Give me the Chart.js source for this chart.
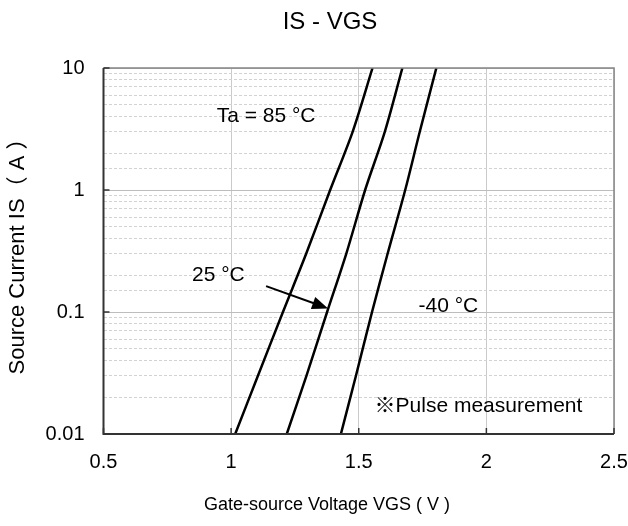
<!DOCTYPE html>
<html>
<head>
<meta charset="utf-8">
<script src="https://cdn.jsdelivr.net/npm/chart.js@4"></script>
<style>
  html, body { margin: 0; padding: 0; background: #fff; }
  #wrap { width: 628px; height: 526px; }
</style>
</head>
<body>
<div id="wrap"><canvas id="isChart"></canvas></div>
<script>
// Source current values (A) shared by all curves
const currents = [0.01, 0.03, 0.1, 0.3, 1, 3, 10];
// Gate-source voltage (V) at each current, per ambient temperature
const vgs85 = [1.016, 1.105, 1.203, 1.294, 1.388, 1.476, 1.554];
const vgs25 = [1.218, 1.295, 1.376, 1.451, 1.525, 1.602, 1.671];
const vgsM40 = [1.430, 1.489, 1.552, 1.613, 1.682, 1.739, 1.804];
const xTicks = [0.5, 1, 1.5, 2, 2.5];
const yTicks = [0.01, 0.1, 1, 10];

const FONT = "'Liberation Sans', Arial, 'Noto Sans CJK JP', sans-serif";

function toPoints(vs) {
    return vs.map((v, i) => ({ x: v, y: currents[i] }));
}

function isDecade(v) {
    const l = Math.log10(v);
    return Math.abs(l - Math.round(l)) < 1e-6;
}

// free text placed in data coordinates
const notes = [
    { text: 'Ta = 85 °C', x: 1.137, y: 3.99 },
    { text: '25 °C', x: 0.950, y: 0.201 },
    { text: '-40 °C', x: 1.851, y: 0.112 },
    { text: '※Pulse measurement', x: 1.969, y: 0.017 }
];
const arrow = { from: { x: 1.137, y: 0.163 }, to: { x: 1.380, y: 0.107 } };

const extras = {
    id: 'extras',
    afterDraw(chart) {
        const { ctx, chartArea: a, scales: { x, y } } = chart;
        ctx.save();

        // plot frame: grey top/right, dark left/bottom
        ctx.lineWidth = 1.5;
        ctx.strokeStyle = '#858585';
        ctx.beginPath();
        ctx.moveTo(a.left, a.top);
        ctx.lineTo(a.right, a.top);
        ctx.lineTo(a.right, a.bottom);
        ctx.stroke();
        ctx.lineWidth = 2;
        ctx.strokeStyle = '#333';
        ctx.beginPath();
        ctx.moveTo(a.left, a.top);
        ctx.lineTo(a.left, a.bottom);
        ctx.lineTo(a.right, a.bottom);
        ctx.stroke();

        // inward tick marks
        ctx.lineWidth = 1.5;
        yTicks.forEach(v => {
            const py = y.getPixelForValue(v);
            ctx.beginPath();
            ctx.moveTo(a.left, py);
            ctx.lineTo(a.left + 6, py);
            ctx.stroke();
        });
        xTicks.forEach(v => {
            const px = x.getPixelForValue(v);
            ctx.beginPath();
            ctx.moveTo(px, a.bottom);
            ctx.lineTo(px, a.bottom - 6);
            ctx.stroke();
        });

        // notes
        ctx.fillStyle = '#000';
        ctx.font = '21px ' + FONT;
        ctx.textAlign = 'center';
        ctx.textBaseline = 'middle';
        notes.forEach(n => {
            ctx.fillText(n.text, x.getPixelForValue(n.x), y.getPixelForValue(n.y));
        });

        // arrow to the 25 °C curve
        const x1 = x.getPixelForValue(arrow.from.x), y1 = y.getPixelForValue(arrow.from.y);
        const x2 = x.getPixelForValue(arrow.to.x), y2 = y.getPixelForValue(arrow.to.y);
        const ang = Math.atan2(y2 - y1, x2 - x1);
        ctx.strokeStyle = '#000';
        ctx.lineWidth = 2;
        ctx.beginPath();
        ctx.moveTo(x1, y1);
        ctx.lineTo(x2 - 10 * Math.cos(ang), y2 - 10 * Math.sin(ang));
        ctx.stroke();
        ctx.beginPath();
        ctx.moveTo(x2, y2);
        ctx.lineTo(x2 - 16 * Math.cos(ang) + 6.5 * Math.sin(ang), y2 - 16 * Math.sin(ang) - 6.5 * Math.cos(ang));
        ctx.lineTo(x2 - 16 * Math.cos(ang) - 6.5 * Math.sin(ang), y2 - 16 * Math.sin(ang) + 6.5 * Math.cos(ang));
        ctx.closePath();
        ctx.fill();

        // titles
        ctx.font = '24px ' + FONT;
        ctx.fillText('IS - VGS', 330, 22);
        ctx.font = '18px ' + FONT;
        ctx.fillText('Gate-source Voltage VGS ( V )', 327, 505);
        ctx.restore();
    }
};

const lineStyle = {
    borderColor: '#000',
    borderWidth: 2.5,
    pointRadius: 0,
    fill: false,
    tension: 0.3
};

const ctx = document.getElementById('isChart').getContext('2d');
new Chart(ctx, {
    type: 'line',
    data: {
        datasets: [
            Object.assign({ label: '85 °C', data: toPoints(vgs85) }, lineStyle),
            Object.assign({ label: '25 °C', data: toPoints(vgs25) }, lineStyle),
            Object.assign({ label: '-40 °C', data: toPoints(vgsM40) }, lineStyle)
        ]
    },
    plugins: [extras],
    options: {
        responsive: true,
        maintainAspectRatio: false,
        animation: false,
        layout: { padding: { top: 68, right: 14, left: 0, bottom: 0 } },
        plugins: {
            legend: { display: false },
            tooltip: { enabled: false }
        },
        scales: {
            x: {
                type: 'linear',
                min: 0.5,
                max: 2.5,
                afterBuildTicks: s => { s.ticks = xTicks.map(v => ({ value: v })); },
                afterFit: s => {
                    s.height = 92;
                    s.paddingLeft = 0;
                    s.paddingRight = 0;
                },
                grid: { color: '#cacaca', lineWidth: 1, drawTicks: false },
                border: { display: false },
                ticks: {
                    color: '#000',
                    padding: 16,
                    font: { family: FONT, size: 20 },
                    maxRotation: 0,
                    callback: v => String(v)
                }
            },
            y: {
                type: 'logarithmic',
                min: 0.01,
                max: 10,
                afterFit: s => {
                    s.width = 103.5;
                    s.paddingTop = 0;
                    s.paddingBottom = 0;
                },
                grid: {
                    color: c => (c.tick && isDecade(c.tick.value)) ? '#bdbdbd' : '#d2d2d2',
                    lineWidth: 1,
                    drawTicks: false
                },
                border: {
                    display: false,
                    dash: c => (c.tick && !isDecade(c.tick.value)) ? [3, 2] : []
                },
                ticks: {
                    color: '#000',
                    padding: 19,
                    autoSkip: false,
                    font: { family: FONT, size: 20 },
                    callback: v => isDecade(v) ? String(Number(v.toPrecision(3))) : ''
                },
                title: {
                    display: true,
                    text: 'Source Current IS（ A ）',
                    color: '#000',
                    font: { family: FONT, size: 22 },
                    padding: { top: 5, bottom: 0 }
                }
            }
        }
    }
});
</script>
</body>
</html>
